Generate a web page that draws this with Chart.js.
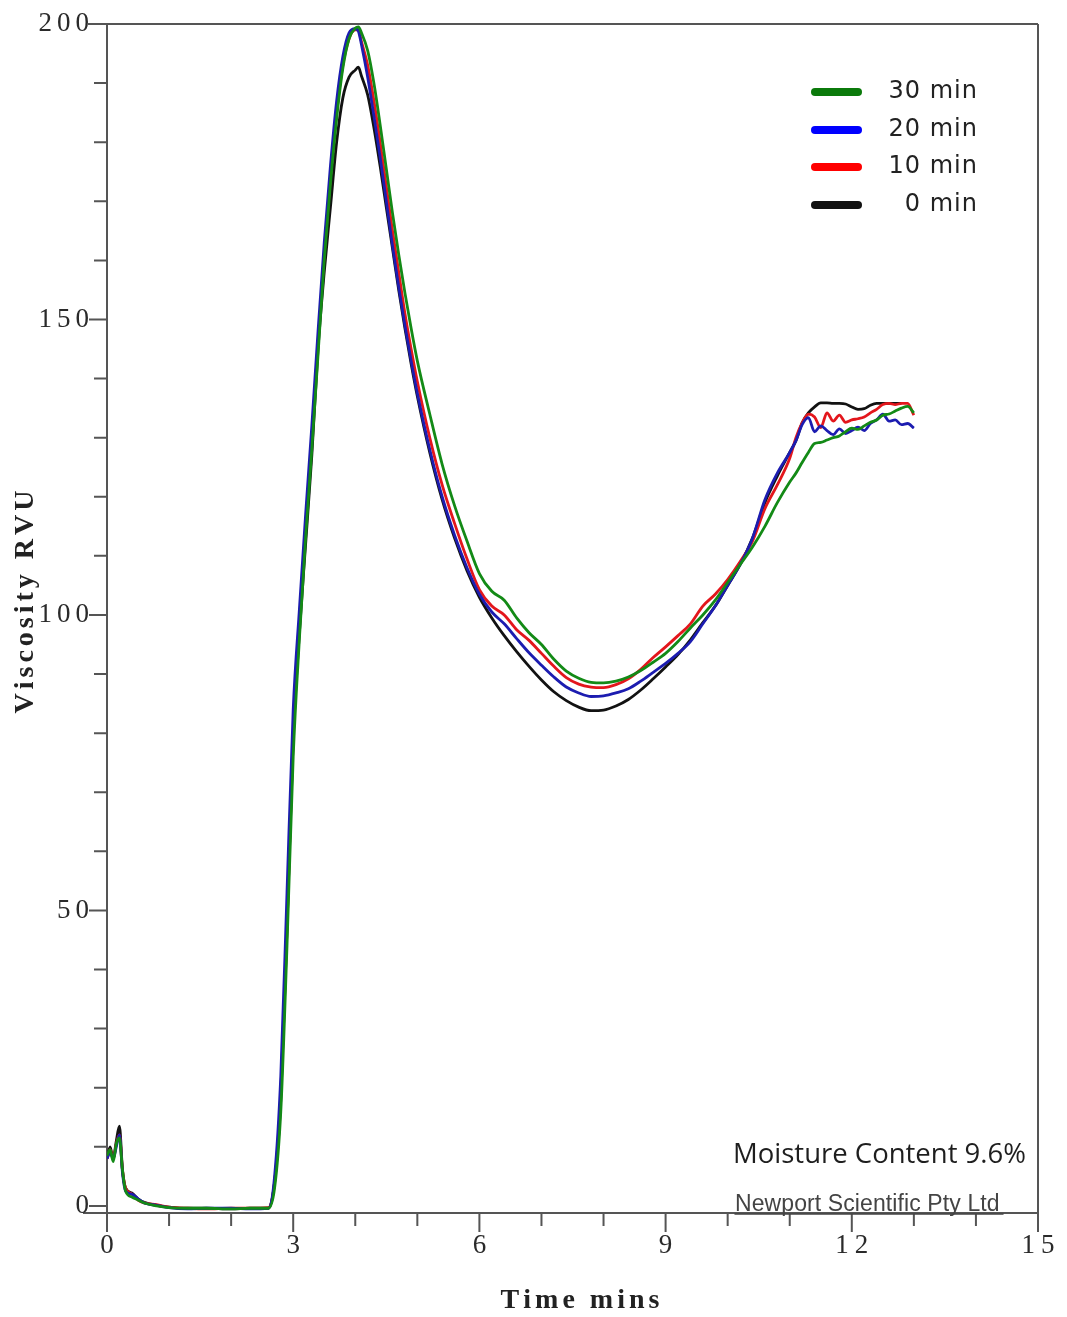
<!DOCTYPE html>
<html>
<head>
<meta charset="utf-8">
<title>RVA viscosity</title>
<script src="https://cdn.jsdelivr.net/npm/chart.js@4.4.1/dist/chart.umd.min.js"></script>
<style>
  html, body { margin: 0; padding: 0; background: #fff; }
  #wrap { width: 1067px; height: 1317px; }
</style>
</head>
<body>
<div id="wrap"><canvas id="rva" width="1067" height="1317"></canvas></div>
<script>
// ---------- data ----------
const timeMins = [
  0, 0.05, 0.1, 0.15, 0.2, 0.25, 0.3, 0.4, 0.5, 0.6, 0.8, 1.0, 1.3, 1.6, 2.0, 2.3, 2.6,
  2.7, 2.8, 2.9, 3.0, 3.1, 3.2, 3.3, 3.4, 3.5, 3.6, 3.7, 3.8, 3.9, 4.0, 4.05, 4.1,
  4.2, 4.3, 4.4, 4.5, 4.6, 4.7, 4.8, 4.9, 5.0, 5.2, 5.4, 5.6, 5.8, 6.0, 6.2, 6.4, 6.6, 6.8,
  7.0, 7.2, 7.4, 7.6, 7.8, 8.0, 8.2, 8.4, 8.6, 8.8, 9.0, 9.2, 9.4, 9.6, 9.8,
  10.0, 10.2, 10.4, 10.6, 10.8, 11.0,
  11.1, 11.2, 11.3, 11.4, 11.5, 11.6, 11.7, 11.8, 11.9, 12.0,
  12.1, 12.2, 12.3, 12.4, 12.5, 12.6, 12.7, 12.8, 12.9, 13.0
];

const rvu30 = [
  8.5, 9.5, 7.5, 10.5, 11.5, 6, 2.5, 1.5, 1.0, 0.5, 0, -0.3, -0.4, -0.4, -0.5, -0.4, -0.4,
  3, 16, 44, 76, 96, 113, 128, 144, 160, 173, 184, 192.5, 197.5, 199.3, 199.5, 198.5,
  195.5, 190, 183, 175.5, 168, 161, 154.5, 148.5, 143, 134, 125.5, 118.5, 112.5, 107, 104, 102.5, 99.5, 97,
  95, 92.5, 90.5, 89.3, 88.6, 88.5, 88.8, 89.5, 90.6, 92, 93.5, 95.5, 97.8, 100, 102.5,
  105.5, 108.5, 111.5, 115, 119, 122.5,
  124, 125.8, 127.5, 129, 129.2, 129.6, 130, 130.3, 131, 131.6,
  131.4, 132, 132.6, 133, 133.8, 134, 134.5, 135, 135.3, 134.2
];

const rvu20 = [
  8, 9, 8, 10, 12, 5.5, 2.5, 2, 1.2, 0.5, 0.1, -0.3, -0.5, -0.4, -0.4, -0.5, -0.4,
  5, 22, 53, 84, 101, 117, 132, 148, 163, 176, 187, 194.5, 198.5, 199.2, 198.8, 196.5,
  191, 184.5, 177.5, 170, 162.5, 155.5, 149, 143, 137.5, 128, 120, 113.5, 108, 103.5, 100.5, 98.5, 96, 93.6,
  91.5, 89.5, 87.8, 86.8, 86.2, 86.3, 86.8, 87.5, 88.8, 90.3, 91.8, 93.5, 95.5, 98.5, 101.5,
  105, 108.5, 113, 119.5, 124, 127.5,
  129.5, 132.2, 133.4, 131, 132, 131.2, 130.5, 131.5, 130.7, 131.2,
  131.8, 131.2, 132.4, 133, 134, 132.8, 133, 132.2, 132.4, 131.6
];

const rvu10 = [
  8, 9.5, 8, 10.5, 12, 6, 3, 2, 1, 0.5, 0.2, -0.2, -0.4, -0.5, -0.4, -0.4, -0.3,
  4, 19, 47, 80, 98, 115, 130, 146, 161, 174, 185, 193, 197.5, 199, 199, 197,
  193, 187, 180, 172.5, 165, 158, 151, 145, 139.5, 130, 122, 115.5, 109.5, 104.3, 101.5, 100, 97.5, 95.7,
  93.5, 91.3, 89.4, 88.3, 87.8, 87.7, 88.2, 89.2, 90.8, 92.8, 94.6, 96.5, 98.5, 101.5, 103.5,
  106, 109, 112.5, 118, 122, 126.5,
  130, 132.5, 134, 133.5, 131.7, 134.2, 132.8, 133.8, 132.6, 133,
  133.2, 133.5, 134.2, 134.8, 135.6, 135.8, 135.6, 135.8, 135.8, 133.8
];

const rvu0 = [
  8, 10, 8, 11, 13.5, 6, 3, 2.2, 1.2, 0.6, 0.1, -0.2, -0.4, -0.4, -0.5, -0.4, -0.4,
  4, 18, 47, 79, 97, 112, 127, 145, 158, 169, 180, 187.5, 191, 192.2, 192.7, 191.2,
  188, 182.5, 176, 169, 162, 155, 148.5, 142.5, 137, 127.5, 119.5, 113, 107.5, 103, 99.5, 96.5, 93.8, 91.3,
  89, 87, 85.5, 84.4, 83.8, 83.9, 84.6, 85.7, 87.3, 89.2, 91.2, 93.3, 95.8, 98.7, 101.5,
  105, 108.5, 113, 119, 123.5, 127.5,
  129.5, 132.5, 134.2, 135.2, 135.9, 135.9, 135.8, 135.8, 135.7, 135.2,
  134.8, 134.9, 135.5, 135.8, 135.8, 135.8, 135.8, 135.8, null, null
];

const seriesLabels = ['30 min', '20 min', '10 min', '0 min'];
const seriesColors = ['#138a16', '#1c1cb0', '#e3161c', '#121212'];
const legendColors = ['#0b7a0b', '#0000ff', '#ff0000', '#111111'];

const xTickLabels = [0, 3, 6, 9, 12, 15];
const yTickLabels = [0, 50, 100, 150, 200];

// ---------- helpers ----------
function spacedText(ctx, str, x, y, spacing, align) {
  const chars = str.split('');
  const widths = chars.map(c => ctx.measureText(c).width);
  const total = widths.reduce((a, b) => a + b, 0) + spacing * (chars.length - 1);
  let cx = x;
  if (align === 'center') cx = x - total / 2;
  if (align === 'right') cx = x - total;
  ctx.textAlign = 'left';
  chars.forEach((c, i) => {
    ctx.fillText(c, cx, y);
    cx += widths[i] + spacing;
  });
}

const toPoints = vals => timeMins.map((t, i) => ({ x: t, y: vals[i] }));

// axes, ticks and frame
const framePlugin = {
  id: 'frame',
  beforeDatasetsDraw(chart) {
    const ctx = chart.ctx;
    const xs = chart.scales.x, ys = chart.scales.y;
    const a = chart.chartArea;
    ctx.save();
    ctx.strokeStyle = '#555';
    ctx.lineWidth = 2;
    ctx.beginPath();
    // top border (200 tick runs into it)
    ctx.moveTo(88, a.top); ctx.lineTo(a.right, a.top);
    // right border
    ctx.moveTo(a.right, a.top); ctx.lineTo(a.right, a.bottom);
    // y axis
    ctx.moveTo(a.left, a.top); ctx.lineTo(a.left, a.bottom);
    // x axis
    ctx.moveTo(83, a.bottom); ctx.lineTo(a.right, a.bottom);

    for (let v = 0; v <= 15; v++) {
      const px = xs.getPixelForValue(v);
      const len = v % 3 === 0 ? 19 : 13;
      ctx.moveTo(px, a.bottom); ctx.lineTo(px, a.bottom + len);
    }
    for (let v = 0; v <= 200; v += 10) {
      const py = ys.getPixelForValue(v);
      const len = v % 50 === 0 ? 18 : 13;
      ctx.moveTo(a.left - len, py); ctx.lineTo(a.left, py);
    }
    ctx.stroke();
    ctx.restore();
  },
  afterDraw(chart) {
    const ctx = chart.ctx;
    const xs = chart.scales.x, ys = chart.scales.y;
    ctx.save();

    // tick labels
    ctx.fillStyle = '#2a2a2a';
    ctx.font = '27px "Liberation Serif"';
    ctx.textBaseline = 'middle';
    yTickLabels.forEach(v => {
      spacedText(ctx, String(v), 89, ys.getPixelForValue(v), 5, 'right');
    });
    xTickLabels.forEach(v => {
      spacedText(ctx, String(v), xs.getPixelForValue(v), 1246, 6, 'center');
    });

    // axis titles
    ctx.fillStyle = '#222';
    ctx.font = 'bold 28px "Liberation Serif"';
    spacedText(ctx, 'Time mins', 580, 1301, 4, 'center');
    ctx.save();
    ctx.translate(26, 602);
    ctx.rotate(-Math.PI / 2);
    spacedText(ctx, 'Viscosity RVU', 0, 0, 4, 'center');
    ctx.restore();

    // legend
    ctx.lineCap = 'round';
    ctx.lineWidth = 8;
    ctx.font = '24px "DejaVu Sans"';
    ctx.textBaseline = 'middle';
    const rowY = [92, 130, 167, 205];
    seriesLabels.forEach((lab, i) => {
      ctx.strokeStyle = legendColors[i];
      ctx.beginPath();
      ctx.moveTo(815, rowY[i]);
      ctx.lineTo(858, rowY[i]);
      ctx.stroke();
      ctx.fillStyle = '#222';
      spacedText(ctx, lab, 977, rowY[i], 1, 'right');
    });

    // notes
    ctx.fillStyle = '#1e1e1e';
    ctx.font = '27.5px "Open Sans"';
    ctx.textAlign = 'left';
    ctx.textBaseline = 'alphabetic';
    ctx.fillText('Moisture Content 9.6%', 733, 1163);

    ctx.fillStyle = '#444';
    ctx.font = '23px "Liberation Sans"';
    spacedText(ctx, 'Newport Scientific Pty Ltd', 735, 1211, 0.1, 'left');
    ctx.strokeStyle = '#444';
    ctx.lineWidth = 1.5;
    ctx.beginPath();
    ctx.moveTo(735, 1214);
    ctx.lineTo(1003, 1214);
    ctx.stroke();

    ctx.restore();
  }
};

// ---------- chart ----------
const ctx = document.getElementById('rva').getContext('2d');

new Chart(ctx, {
  type: 'line',
  data: {
    datasets: seriesLabels.map((lab, i) => ({
      label: lab,
      data: toPoints([rvu30, rvu20, rvu10, rvu0][i]),
      borderColor: seriesColors[i],
      borderWidth: 2.8,
      pointRadius: 0,
      fill: false,
      cubicInterpolationMode: 'monotone'
    }))
  },
  options: {
    responsive: false,
    animation: false,
    devicePixelRatio: 1,
    layout: { padding: { left: 107, right: 29, top: 24, bottom: 104 } },
    plugins: {
      legend: { display: false },
      tooltip: { enabled: false }
    },
    scales: {
      x: { type: 'linear', min: 0, max: 15, display: false },
      y: { type: 'linear', min: -1.2, max: 200, display: false }
    }
  },
  plugins: [framePlugin]
});
</script>
</body>
</html>
